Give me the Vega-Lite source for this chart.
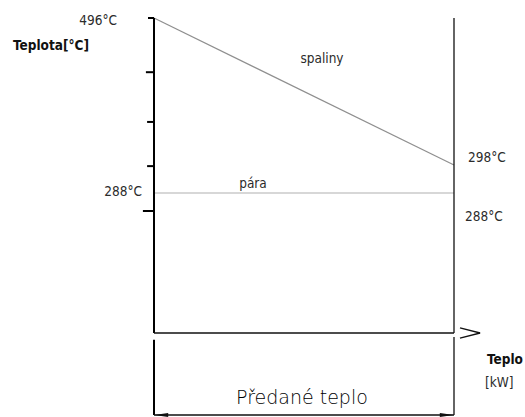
{
  "$schema": "https://vega.github.io/schema/vega-lite/v6.json",
  "width": 525,
  "height": 417,
  "autosize": "none",
  "padding": 0,
  "background": "white",
  "config": {"view": {"stroke": null}},
  "datasets": {
    "proudy": [
      {"proud": "spaliny", "q": 0, "t": 496},
      {"proud": "spaliny", "q": 100, "t": 298},
      {"proud": "pára", "q": 0, "t": 288},
      {"proud": "pára", "q": 100, "t": 288}
    ],
    "osaTeploty": [
      {"cast": "osa", "q": 0, "t": 0, "q2": 0, "t2": 496},
      {"cast": "kota vlevo", "q": 0, "t": -60, "q2": 0, "t2": -5},
      {"cast": "ryska", "q": 0, "t": 496, "q2": -2, "t2": 496},
      {"cast": "ryska", "q": 0, "t": 423, "q2": -2.7, "t2": 423},
      {"cast": "ryska", "q": 0, "t": 356, "q2": -2.3, "t2": 356},
      {"cast": "ryska", "q": 0, "t": 297.6, "q2": -2.3, "t2": 297.6},
      {"cast": "ryska", "q": 0, "t": 251, "q2": -3.7, "t2": 251}
    ],
    "tenkeCary": [
      {"cast": "osa tepla", "q": 0, "t": 0, "q2": 100, "t2": 0},
      {"cast": "konec", "q": 100, "t": 0, "q2": 100, "t2": 496},
      {"cast": "kota vpravo", "q": 100, "t": -60, "q2": 100, "t2": -3},
      {"cast": "kota", "q": 0, "t": -60, "q2": 100, "t2": -60},
      {"cast": "sipka", "q": 102, "t": 10.3, "q2": 108.7, "t2": 0},
      {"cast": "sipka", "q": 102, "t": -3.7, "q2": 108.7, "t2": 0}
    ],
    "popisky": [
      {"id": "t496", "text": "496°C", "q": 0, "t": 496},
      {"id": "osaY", "text": "Teplota[°C]", "q": 0, "t": 496},
      {"id": "t288L", "text": "288°C", "q": 0, "t": 288},
      {"id": "t298", "text": "298°C", "q": 100, "t": 298},
      {"id": "t288R", "text": "288°C", "q": 100, "t": 288},
      {"id": "spaliny", "text": "spaliny", "q": 56, "t": 385},
      {"id": "para", "text": "pára", "q": 33, "t": 288},
      {"id": "osaX1", "text": "Teplo", "q": 100, "t": 0},
      {"id": "osaX2", "text": "[kW]", "q": 100, "t": 0},
      {"id": "predane", "text": "Předané teplo", "q": 49.3, "t": -60}
    ]
  },
  "encoding": {
    "x": {"field": "q", "type": "quantitative", "axis": null,
          "scale": {"domain": [0, 100], "range": [154, 454], "zero": false, "nice": false}},
    "y": {"field": "t", "type": "quantitative", "axis": null,
          "scale": {"domain": [-60, 0, 288, 298, 496], "range": [415, 333, 193, 165, 18], "zero": false, "nice": false}}
  },
  "layer": [
    {
      "data": {"name": "proudy"},
      "mark": {"type": "line", "strokeWidth": 1.2},
      "encoding": {
        "detail": {"field": "proud"},
        "color": {"field": "proud", "type": "nominal", "legend": null,
                  "scale": {"domain": ["spaliny", "pára"], "range": ["#8f8f8f", "#b0b0b0"]}}
      }
    },
    {
      "data": {"name": "osaTeploty"},
      "mark": {"type": "rule", "color": "#000000", "strokeWidth": 2},
      "encoding": {"x2": {"field": "q2"}, "y2": {"field": "t2"}}
    },
    {
      "data": {"name": "tenkeCary"},
      "mark": {"type": "rule", "color": "#111111", "strokeWidth": 1.3},
      "encoding": {"x2": {"field": "q2"}, "y2": {"field": "t2"}}
    },
    {
      "data": {"values": [
        {"konec": "levy", "q": 2.4, "t": -60},
        {"konec": "pravy", "q": 97.6, "t": -60}
      ]},
      "mark": {"type": "point", "filled": true, "color": "#111111", "opacity": 1, "size": 196},
      "encoding": {
        "shape": {"field": "konec", "type": "nominal", "legend": null,
                  "scale": {"domain": ["levy", "pravy"], "range": ["M-1,0L1,-0.28L1,0.28Z", "M1,0L-1,-0.28L-1,0.28Z"]}}
      }
    },
    {
      "data": {"name": "popisky"},
      "transform": [{"filter": "datum.id === 't496'"}],
      "mark": {"type": "text", "align": "right", "baseline": "middle", "dx": -37, "dy": 3,
               "font": "DejaVu Sans Condensed", "fontSize": 13.5, "color": "#2b2b2b"},
      "encoding": {"text": {"field": "text"}}
    },
    {
      "data": {"name": "popisky"},
      "transform": [{"filter": "datum.id === 'osaY'"}],
      "mark": {"type": "text", "align": "left", "baseline": "middle", "dx": -141, "dy": 28,
               "font": "DejaVu Sans Condensed", "fontSize": 13.5, "fontWeight": "bold", "color": "#111111"},
      "encoding": {"text": {"field": "text"}}
    },
    {
      "data": {"name": "popisky"},
      "transform": [{"filter": "datum.id === 't288L'"}],
      "mark": {"type": "text", "align": "right", "baseline": "middle", "dx": -12, "dy": -1,
               "font": "DejaVu Sans Condensed", "fontSize": 13.5, "color": "#2b2b2b"},
      "encoding": {"text": {"field": "text"}}
    },
    {
      "data": {"name": "popisky"},
      "transform": [{"filter": "datum.id === 't298'"}],
      "mark": {"type": "text", "align": "left", "baseline": "middle", "dx": 14, "dy": -7.5,
               "font": "DejaVu Sans Condensed", "fontSize": 13.5, "color": "#2b2b2b"},
      "encoding": {"text": {"field": "text"}}
    },
    {
      "data": {"name": "popisky"},
      "transform": [{"filter": "datum.id === 't288R'"}],
      "mark": {"type": "text", "align": "left", "baseline": "middle", "dx": 11, "dy": 23.5,
               "font": "DejaVu Sans Condensed", "fontSize": 13.5, "color": "#2b2b2b"},
      "encoding": {"text": {"field": "text"}}
    },
    {
      "data": {"name": "popisky"},
      "transform": [{"filter": "datum.id === 'spaliny'"}],
      "mark": {"type": "text", "align": "center", "baseline": "middle", "dy": -41,
               "font": "DejaVu Sans Condensed", "fontSize": 13.5, "color": "#2b2b2b"},
      "encoding": {"text": {"field": "text"}}
    },
    {
      "data": {"name": "popisky"},
      "transform": [{"filter": "datum.id === 'para'"}],
      "mark": {"type": "text", "align": "center", "baseline": "middle", "dy": -9,
               "font": "DejaVu Sans Condensed", "fontSize": 13.5, "color": "#2b2b2b"},
      "encoding": {"text": {"field": "text"}}
    },
    {
      "data": {"name": "popisky"},
      "transform": [{"filter": "datum.id === 'osaX1'"}],
      "mark": {"type": "text", "align": "left", "baseline": "middle", "dx": 33, "dy": 27,
               "font": "DejaVu Sans Condensed", "fontSize": 13.5, "fontWeight": "bold", "color": "#111111"},
      "encoding": {"text": {"field": "text"}}
    },
    {
      "data": {"name": "popisky"},
      "transform": [{"filter": "datum.id === 'osaX2'"}],
      "mark": {"type": "text", "align": "left", "baseline": "middle", "dx": 31, "dy": 49.5,
               "font": "DejaVu Sans Condensed", "fontSize": 13.5, "color": "#2b2b2b"},
      "encoding": {"text": {"field": "text"}}
    },
    {
      "data": {"name": "popisky"},
      "transform": [{"filter": "datum.id === 'predane'"}],
      "mark": {"type": "text", "align": "center", "baseline": "middle", "dy": -17.5,
               "font": "DejaVu Sans", "fontSize": 19, "fontWeight": 200, "color": "#000000"},
      "encoding": {"text": {"field": "text"}}
    }
  ]
}
